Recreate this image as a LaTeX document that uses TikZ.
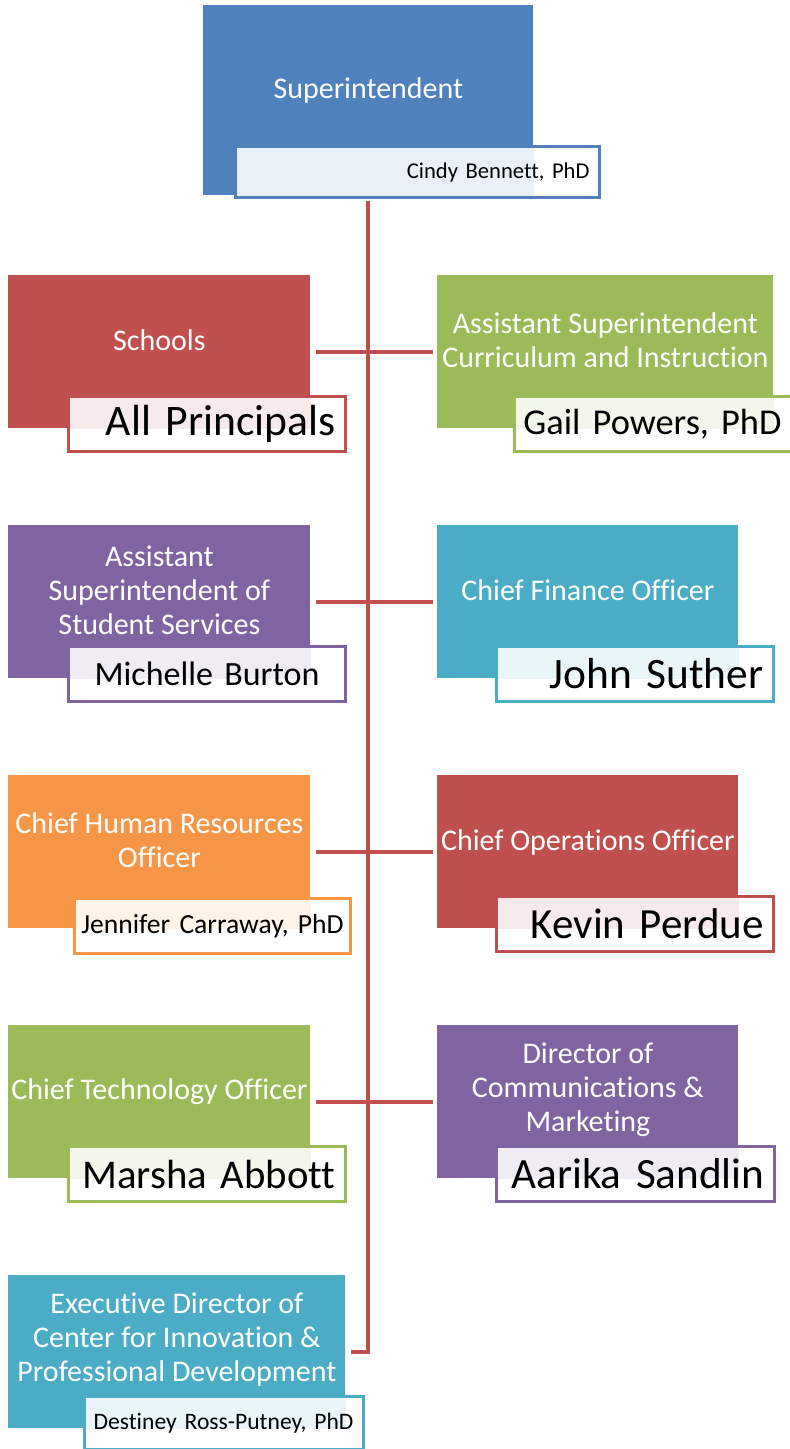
\documentclass[tikz,border=0pt]{standalone}
\usepackage{fontspec}
\setmainfont{Carlito}[Ligatures=NoCommon]
\usepackage{tikz}
\usetikzlibrary{positioning,calc}

\definecolor{orgblue}{HTML}{4F81BD}
\definecolor{orgred}{HTML}{C0504D}
\definecolor{orggreen}{HTML}{9BBB59}
\definecolor{orgpurple}{HTML}{8064A2}
\definecolor{orgaqua}{HTML}{4BACC6}
\definecolor{orgorange}{HTML}{F79646}

% name line kept on one line, flush right (or centred)
\newcommand{\rightname}[1]{\hbox to\hsize{\hss#1}}
\newcommand{\midname}[1]{\hbox to\hsize{\hss#1\hss}}

\begin{document}
\begin{tikzpicture}[x=0.5pt,y=-0.5pt,
  mainbox/.style={fill=#1,anchor=north west,inner sep=0pt,minimum height=76.5pt},
  roletext/.style={text=white,align=center,font=\fontsize{15pt}{17pt}\selectfont},
  namebox/.style 2 args={draw=#1,fill=white,line width=1.5pt,anchor=north west,inner xsep=5pt,inner ysep=0pt,
    minimum height=27.5pt,
    path picture={\fill[#1!12] (#2.south west) rectangle (#2.north east);}},
  link/.style={draw=orgred,line width=2pt}]
\useasboundingbox (0,0) rectangle (790,1449);

% top
\node[mainbox=orgblue,minimum width=165pt,minimum height=95pt] (super) at (203,5) {};
\node[roletext] (supertitle) at ([yshift=-43pt]super.north) {Superintendent};
\node[namebox={orgblue}{super},text width=172pt,minimum height=25.5pt,font=\fontsize{11.3pt}{13pt}\selectfont] (supername) at (234,145) {\rightname{Cindy Bennett, PhD}};

% row 1
\node[mainbox=orgred,minimum width=151pt] (schools) at (8,275) {};
\node[roletext] (schoolstitle) at ([yshift=-32.5pt]schools.north) {Schools};
\node[namebox={orgred}{schools},text width=128.5pt,font=\fontsize{21.8pt}{24pt}\selectfont] (schoolsname) at (67,395) {\rightname{All Principals}};

\node[mainbox=orggreen,minimum width=168pt] (curric) at (437,275) {};
\node[roletext] (currictitle) at ([yshift=-32.5pt]curric.north) {Assistant Superintendent\\Curriculum and Instruction};
\node[namebox={orggreen}{curric},text width=128.5pt,font=\fontsize{18.2pt}{20pt}\selectfont] (curricname) at (513,395) {\rightname{Gail Powers, PhD}};

% row 2
\node[mainbox=orgpurple,minimum width=151pt] (students) at (8,525) {};
\node[roletext] (studentstitle) at ([yshift=-32.5pt]students.north) {Assistant\\Superintendent of\\Student Services};
\node[namebox={orgpurple}{students},text width=128.5pt,font=\fontsize{17pt}{19pt}\selectfont] (studentsname) at (67,645) {\midname{Michelle Burton}};

\node[mainbox=orgaqua,minimum width=150.5pt] (finance) at (437,525) {};
\node[roletext] (financetitle) at ([yshift=-32.5pt]finance.north) {Chief Finance Officer};
\node[namebox={orgaqua}{finance},text width=128.5pt,font=\fontsize{21.7pt}{24pt}\selectfont] (financename) at (495,645) {\rightname{John Suther}};

% row 3
\node[mainbox=orgorange,minimum width=151pt] (hr) at (8,775) {};
\node[roletext] (hrtitle) at ([yshift=-32.5pt]hr.north) {Chief Human Resources\\Officer};
\node[namebox={orgorange}{hr},text width=131pt,inner xsep=3.5pt,font=\fontsize{13.8pt}{16pt}\selectfont] (hrname) at (73,897) {\midname{Jennifer Carraway, PhD}};

\node[mainbox=orgred,minimum width=150.5pt] (ops) at (437,775) {};
\node[roletext] (opstitle) at ([yshift=-33.5pt]ops.north) {Chief Operations Officer};
\node[namebox={orgred}{ops},text width=128.5pt,font=\fontsize{21.5pt}{24pt}\selectfont] (opsname) at (495,895) {\rightname{Kevin Perdue}};

% row 4
\node[mainbox=orggreen,minimum width=151pt] (tech) at (8,1025) {};
\node[roletext] (techtitle) at ([yshift=-33.5pt]tech.north) {Chief Technology Officer};
\node[namebox={orggreen}{tech},text width=128.5pt,font=\fontsize{20.4pt}{22pt}\selectfont] (techname) at (67,1145) {\rightname{Marsha Abbott}};

\node[mainbox=orgpurple,minimum width=150.5pt] (comms) at (437,1025) {};
\node[roletext] (commstitle) at ([yshift=-32.5pt]comms.north) {Director of\\Communications \&\\Marketing};
\node[namebox={orgpurple}{comms},text width=129pt,font=\fontsize{21.6pt}{24pt}\selectfont] (commsname) at (495,1145) {\rightname{Aarika Sandlin}};

% row 5
\node[mainbox=orgaqua,minimum width=168.5pt] (innov) at (8,1275) {};
\node[roletext] (innovtitle) at ([yshift=-32.5pt]innov.north) {Executive Director of\\Center for Innovation \&\\Professional Development};
\node[namebox={orgaqua}{innov},text width=129.5pt,minimum height=26.5pt,font=\fontsize{11.8pt}{13pt}\selectfont] (innovname) at (83,1395) {\rightname{Destiney Ross-Putney, PhD}};

% connectors
\draw[link] ([yshift=-2.5pt]super.south) |- ([xshift=2.5pt]innov.east);
\draw[link] ([xshift=2.5pt]schools.east) -- ([xshift=-2pt]curric.west);
\draw[link] ([xshift=2.5pt]students.east) -- ([xshift=-2pt]finance.west);
\draw[link] ([xshift=2.5pt]hr.east) -- ([xshift=-2pt]ops.west);
\draw[link] ([xshift=2.5pt]tech.east) -- ([xshift=-2pt]comms.west);
\end{tikzpicture}
\end{document}
